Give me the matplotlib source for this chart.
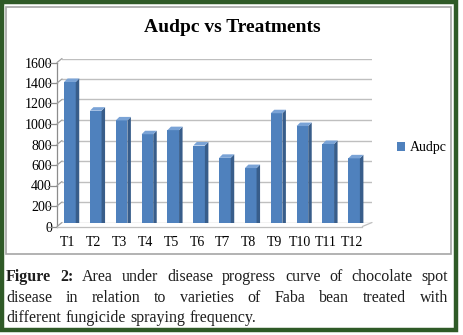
import matplotlib
matplotlib.use('Agg')
import matplotlib.pyplot as plt
from matplotlib.patches import Rectangle, Polygon, Patch
from matplotlib.transforms import ScaledTranslation, IdentityTransform

# data
treatments = ['T1', 'T2', 'T3', 'T4', 'T5', 'T6', 'T7', 'T8', 'T9', 'T10', 'T11', 'T12']
audpc = [1410, 1130, 1035, 900, 940, 790, 670, 570, 1105, 980, 805, 665]
yticks = [0, 200, 400, 600, 800, 1000, 1200, 1400, 1600]

title = 'Audpc vs Treatments'
series_name = 'Audpc'
caption_lines = [
    [('Figure', 'bold'), ('2:', 'bold'), ('Area', 'normal'), ('under', 'normal'), ('disease', 'normal'),
     ('progress', 'normal'), ('curve', 'normal'), ('of', 'normal'), ('chocolate', 'normal'), ('spot', 'normal')],
    [(w, 'normal') for w in 'disease in relation to varieties of Faba bean treated with'.split()],
    [(w, 'normal') for w in 'different fungicide spraying frequency.'.split()],
]

W, H = 464, 335
fig = plt.figure(figsize=(W / 100, H / 100), dpi=100)
plt.rcParams['font.family'] = ['Liberation Serif', 'DejaVu Serif']


def fx(x):
    return x / W


def fy(y):
    return 1 - y / H


def px(dx, dy):
    # offset in pixels (x right, y up)
    return ScaledTranslation(dx / 100, dy / 100, fig.dpi_scale_trans)


# green frame and grey chart box
fig.patches.append(Rectangle((fx(2), fy(329.5)), fx(454), 327.5 / H, transform=fig.transFigure,
                             fill=False, edgecolor='#2f5a27', linewidth=3.2))
fig.patches.append(Rectangle((fx(6.5), fy(254)), fx(444.5), 247.5 / H, transform=fig.transFigure,
                             fill=False, edgecolor='#a6a6a6', linewidth=1.2))

fig.text(fx(232), fy(31.5), title, ha='center', va='baseline', fontsize=14, fontweight='bold')

# back wall of the 3d chart
ax = fig.add_axes([fx(62), fy(222.5), fx(310), 164 / H])
ax.set_xlim(-0.5, len(treatments) - 0.5)
ax.set_ylim(0, 1600)
for s in ax.spines.values():
    s.set_visible(False)
ax.patch.set_alpha(0)

for v in yticks:
    ax.axhline(v, color='#bfbfbf', linewidth=1.0, zorder=0)

front = px(-5, -4)
ytr = ax.get_yaxis_transform()
# front axis line, ticks and diagonals to the wall
ax.plot([0, 0], [0, 1600], color='#8c8c8c', lw=0.9, transform=ytr + front, clip_on=False)
for v in yticks:
    ax.annotate('', xy=(0, v), xycoords=ytr, xytext=(0, v), textcoords=ytr + front,
                arrowprops=dict(arrowstyle='-', color='#a0a0a0', lw=0.9, shrinkA=0, shrinkB=0))
    ax.plot([-0.03, 0], [v, v], color='#8c8c8c', lw=0.9, transform=ytr + front, clip_on=False)
# floor front edge
ax.plot([0, 0.985], [0, 0], color='#bfbfbf', lw=0.9, transform=ytr + front, clip_on=False)
ax.annotate('', xy=(1, 0), xycoords=ytr, xytext=(0.985, 0), textcoords=ytr + front,
            arrowprops=dict(arrowstyle='-', color='#bfbfbf', lw=0.9, shrinkA=0, shrinkB=0))

# bars: front face plus side and top faces
bw = 0.45
xs = list(range(len(treatments)))
dtr = ax.transData + front
ax.bar(xs, audpc, width=bw, color='#4f81bd', edgecolor='none', transform=dtr, zorder=3, label=series_name)
d = (3.5, 3.5)
for x, v in zip(xs, audpc):
    p0 = dtr.transform((x + bw / 2, 0))
    p1 = dtr.transform((x + bw / 2, v))
    p2 = dtr.transform((x - bw / 2, v))
    side = Polygon([p0, p1, (p1[0] + d[0], p1[1] + d[1]), (p0[0] + d[0], p0[1] + d[1])], closed=True,
                   facecolor='#385d8a', edgecolor='none', zorder=3, transform=IdentityTransform())
    top = Polygon([p2, p1, (p1[0] + d[0], p1[1] + d[1]), (p2[0] + d[0], p2[1] + d[1])], closed=True,
                  facecolor='#7aa3d6', edgecolor='none', zorder=3, transform=IdentityTransform())
    ax.add_patch(side)
    ax.add_patch(top)

ax.set_yticks(yticks)
ax.set_xticks(xs)
ax.set_xticklabels(treatments)
ax.tick_params(axis='both', length=0, labelsize=10)
ax.tick_params(axis='y', pad=3.6)
ax.tick_params(axis='x', pad=7)
for lab in ax.get_yticklabels():
    lab.set_transform(lab.get_transform() + front)
for lab in ax.get_xticklabels():
    lab.set_transform(lab.get_transform() + px(-7, -4))

fig.legend(handles=[Patch(facecolor='#4f81bd', label=series_name)], loc='center left',
           bbox_to_anchor=(fx(397), fy(148)), bbox_transform=fig.transFigure, frameon=False,
           fontsize=10, handlelength=0.6, handleheight=0.6, handletextpad=0.3,
           borderpad=0, borderaxespad=0)

# justified caption
renderer = fig.canvas.get_renderer()
left, right = 6, 448
baselines = [281, 301.7, 322.3]
for i, line in enumerate(caption_lines):
    texts = [fig.text(0, fy(baselines[i]), w, fontsize=11.5, fontweight=wt, color='#1e1e1e',
                      va='baseline', ha='left') for w, wt in line]
    widths = [t.get_window_extent(renderer).width for t in texts]
    if i < len(caption_lines) - 1:
        gap = (right - left - sum(widths)) / (len(texts) - 1)
    else:
        gap = 4.5
    x = left
    for t, w in zip(texts, widths):
        t.set_x(fx(x))
        x += w + gap

fig.savefig('out.png', dpi=100)
